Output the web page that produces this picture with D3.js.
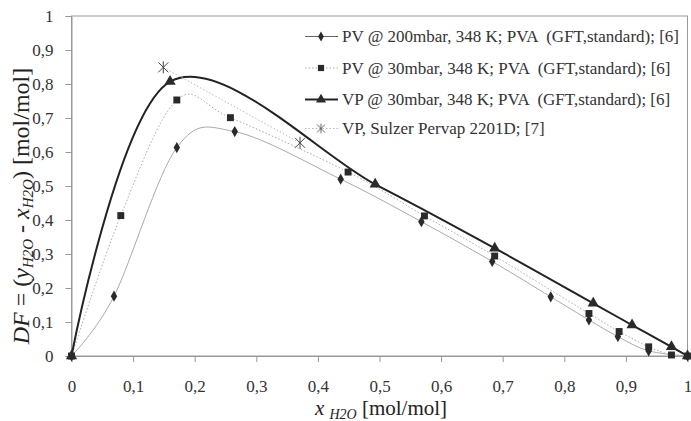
<!DOCTYPE html>
<meta charset="utf-8">
<style>
body { margin: 0; background: #fff; }
svg text { font-family: "Liberation Serif", "DejaVu Serif", serif; }
.axis path, .axis line { stroke: #999; }
.axis text { font-size: 17px; fill: #333; }
.legend text { font-size: 17px; fill: #333; }
</style>
<svg width="691" height="421"></svg>
<script src="https://d3js.org/d3.v7.min.js"></script>
<script>

// PV @ 200mbar (diamonds)
var pv200 = [[0,0],[0.069,0.176],[0.171,0.613],[0.265,0.66],[0.437,0.52],[0.568,0.395],
  [0.683,0.278],[0.778,0.174],[0.84,0.106],[0.887,0.057],[0.937,0.015],[1,0]];
// PV @ 30mbar (squares)
var pv30 = [[0,0],[0.08,0.413],[0.171,0.753],[0.258,0.701],[0.449,0.541],[0.573,0.412],
  [0.687,0.294],[0.84,0.125],[0.889,0.072],[0.937,0.027],[0.974,0.003],[1,0]];
// VP @ 30mbar (triangles)
var vp30 = [[0,0],[0.16,0.807],[0.493,0.505],[0.687,0.317],[0.847,0.155],[0.91,0.091],[0.974,0.027],[1,0]];
// VP Sulzer (stars)
var sulzer = [[0.149,0.849],[0.371,0.627]];

var xTicks = [0,0.1,0.2,0.3,0.4,0.5,0.6,0.7,0.8,0.9,1];
var xTickLabels = ["0","0,1","0,2","0,3","0,4","0,5","0,6","0,7","0,8","0,9","1"];
var yTicks = [0,0.1,0.2,0.3,0.4,0.5,0.6,0.7,0.8,0.9,1];
var yTickLabels = ["0","0,1","0,2","0,3","0,4","0,5","0,6","0,7","0,8","0,9","1"];
var legendLabels = ["PV @ 200mbar, 348 K; PVA  (GFT,standard); [6]",
  "PV @ 30mbar, 348 K; PVA  (GFT,standard); [6]",
  "VP @ 30mbar, 348 K; PVA  (GFT,standard); [6]",
  "VP, Sulzer Pervap 2201D; [7]"];

var svg = d3.select("svg"),
    margin = {top: 16, left: 71.5},
    width = 616,
    height = 340;

var x = d3.scaleLinear().domain([0, 1]).range([0, width]),
    y = d3.scaleLinear().domain([0, 1]).range([height, 0]);

var g = svg.append("g")
    .attr("transform", "translate(" + margin.left + "," + margin.top + ")");

// plot box
g.append("rect")
    .attr("width", width).attr("height", height)
    .attr("fill", "none").attr("stroke", "#999");

g.append("g")
    .attr("class", "axis")
    .attr("transform", "translate(0," + height + ")")
    .call(d3.axisBottom(x).tickValues(xTicks).tickSizeOuter(0).tickSize(6).tickPadding(18)
      .tickFormat(function(d, i) { return xTickLabels[i]; }));

g.append("g")
    .attr("class", "axis")
    .call(d3.axisLeft(y).tickValues(yTicks).tickSizeOuter(0).tickSize(6).tickPadding(12)
      .tickFormat(function(d, i) { return yTickLabels[i]; }));

var smooth = d3.line()
    .x(function(d) { return x(d[0]); })
    .y(function(d) { return y(d[1]); })
    .curve(d3.curveCardinal.tension(0));

var straight = d3.line()
    .x(function(d) { return x(d[0]); })
    .y(function(d) { return y(d[1]); });

var series = [
  {data: pv200, line: smooth, stroke: "#aaa", width: 1, dash: null, sym: d3.symbolDiamond, size: 36, lstroke: "#666"},
  {data: pv30, line: smooth, stroke: "#aaa", width: 1, dash: "1.5,2", sym: d3.symbolSquare, size: 48, lstroke: "#aaa"},
  {data: vp30, line: smooth, stroke: "#222", width: 2, dash: null, sym: d3.symbolTriangle, size: 55, lstroke: "#222"},
  {data: sulzer, line: straight, stroke: "#bbb", width: 1, dash: "1.5,2", sym: "star", size: 0, lstroke: "#bbb"}
];

function star(sel) {
  sel.append("path")
    .attr("d", "M-5,-5L5,5M-5,5L5,-5M0,-6L0,6")
    .attr("stroke", "#444").attr("stroke-width", 1).attr("fill", "none");
}

series.forEach(function(s) {
  g.append("path")
      .attr("d", s.line(s.data))
      .attr("fill", "none")
      .attr("stroke", s.stroke)
      .attr("stroke-width", s.width)
      .attr("stroke-dasharray", s.dash);
});

series.forEach(function(s) {
  var m = g.selectAll(null)
    .data(s.data)
    .enter().append("g")
      .attr("transform", function(d) { return "translate(" + x(d[0]) + "," + y(d[1]) + ")"; });
  if (s.sym === "star") star(m);
  else m.append("path").attr("d", d3.symbol().type(s.sym).size(s.size)).attr("fill", "#2a2a2a");
});

// legend
var rows = [36.5, 68, 99.5, 128.5];
var legend = svg.append("g").attr("class", "legend");
series.forEach(function(s, i) {
  var r = legend.append("g").attr("transform", "translate(305," + rows[i] + ")");
  r.append("line")
      .attr("x1", 0).attr("x2", 33)
      .attr("stroke", s.lstroke)
      .attr("stroke-width", s.width)
      .attr("stroke-dasharray", s.dash);
  var mk = r.append("g").attr("transform", "translate(16,0)");
  if (s.sym === "star") star(mk.attr("transform", "translate(16,0) scale(0.8)"));
  else mk.append("path").attr("d", d3.symbol().type(s.sym).size(s.size * 0.8)).attr("fill", "#2a2a2a");
  r.append("text")
      .attr("x", 37).attr("dy", "0.33em")
      .style("white-space", "pre")
      .text(legendLabels[i]);
});

// x axis title
var xt = svg.append("text")
    .attr("x", 381).attr("y", 415)
    .attr("text-anchor", "middle")
    .attr("font-size", 21).attr("fill", "#222");
xt.append("tspan").attr("font-style", "italic").text("x ");
xt.append("tspan").attr("font-style", "italic").attr("font-size", 14).attr("dy", 4).text("H2O");
xt.append("tspan").attr("dy", -4).text(" [mol/mol]");

// y axis title
var yt = svg.append("text")
    .attr("transform", "translate(29,206) rotate(-90)")
    .attr("text-anchor", "middle")
    .attr("font-size", 24).attr("fill", "#222");
yt.append("tspan").attr("font-style", "italic").text("DF");
yt.append("tspan").text(" = (");
yt.append("tspan").attr("font-style", "italic").text("y");
yt.append("tspan").attr("font-style", "italic").attr("font-size", 15).attr("dy", 4).text("H2O");
yt.append("tspan").attr("dy", -4).text(" - ");
yt.append("tspan").attr("font-style", "italic").text("x");
yt.append("tspan").attr("font-style", "italic").attr("font-size", 15).attr("dy", 4).text("H2O");
yt.append("tspan").attr("dy", -4).text(") [mol/mol]");

</script>
